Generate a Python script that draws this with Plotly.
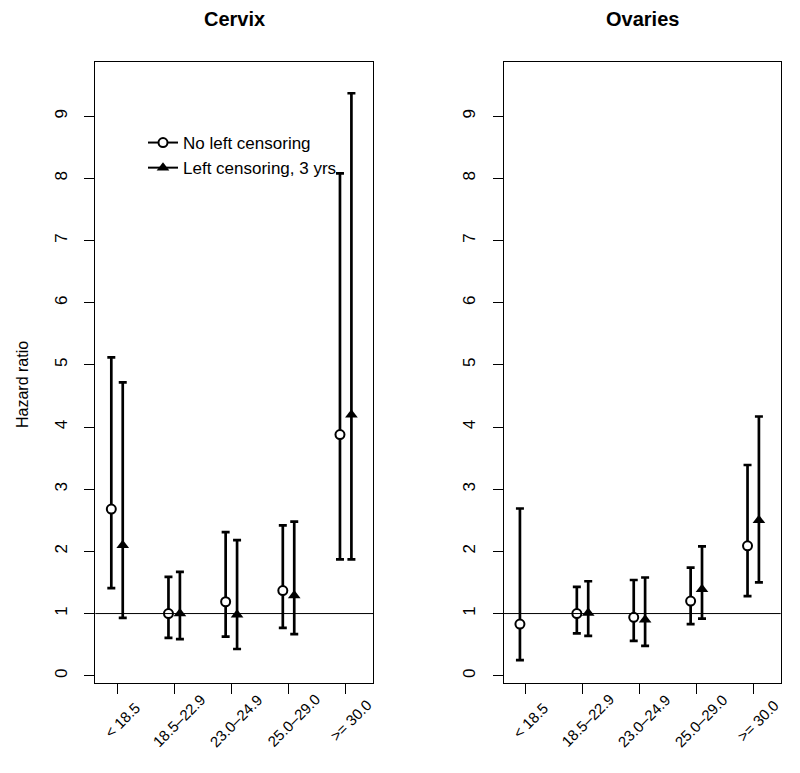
import plotly.graph_objects as go

categories = ["< 18.5", "18.5–22.9", "23.0–24.9", "25.0–29.0", ">= 30.0"]
cat_pos = [1, 2, 3, 4, 5]
y_ticks = [0, 1, 2, 3, 4, 5, 6, 7, 8, 9]

# Cervix
cervix_no_hr = [2.68, 1.00, 1.19, 1.37, 3.88]
cervix_no_lo = [1.41, 0.61, 0.63, 0.77, 1.87]
cervix_no_hi = [5.12, 1.59, 2.31, 2.42, 8.08]
cervix_lc_hr = [2.10, 1.00, 0.98, 1.29, 4.20]
cervix_lc_lo = [0.93, 0.59, 0.43, 0.67, 1.87]
cervix_lc_hi = [4.72, 1.67, 2.18, 2.48, 9.37]

# Ovaries
ovaries_no_hr = [0.83, 1.00, 0.94, 1.20, 2.09]
ovaries_no_lo = [0.25, 0.68, 0.56, 0.83, 1.28]
ovaries_no_hi = [2.69, 1.43, 1.54, 1.74, 3.39]
ovaries_lc_hr = [None, 1.01, 0.90, 1.39, 2.50]
ovaries_lc_lo = [None, 0.64, 0.48, 0.92, 1.50]
ovaries_lc_hi = [None, 1.52, 1.58, 2.08, 4.17]

reference_hr = 1

FONT = "Liberation Sans, Arial, Helvetica, sans-serif"
OFFSET = 0.1
W, H = 800, 773

fig = go.Figure()


def add_series(hr, lo, hi, dx, symbol, fill, xa, ya):
    xs = [c + dx for c in cat_pos]
    plus = [None if h is None else u - h for h, u in zip(hr, hi)]
    minus = [None if h is None else h - l for h, l in zip(hr, lo)]
    fig.add_trace(go.Scatter(
        x=xs, y=hr, mode="markers", xaxis=xa, yaxis=ya, showlegend=False,
        marker=dict(symbol=symbol, size=9 if symbol == "circle" else 11,
                    color=fill, line=dict(color="black", width=2 if symbol == "circle" else 0)),
        error_y=dict(type="data", symmetric=False, array=plus, arrayminus=minus,
                     color="black", thickness=2.7, width=4),
        cliponaxis=False,
    ))


add_series(cervix_no_hr, cervix_no_lo, cervix_no_hi, -OFFSET, "circle", "white", "x", "y")
add_series(cervix_lc_hr, cervix_lc_lo, cervix_lc_hi, OFFSET, "triangle-up", "black", "x", "y")
add_series(ovaries_no_hr, ovaries_no_lo, ovaries_no_hi, -OFFSET, "circle", "white", "x2", "y2")
add_series(ovaries_lc_hr, ovaries_lc_lo, ovaries_lc_hi, OFFSET, "triangle-up", "black", "x2", "y2")

# legend entries
fig.add_trace(go.Scatter(x=[None], y=[None], mode="lines+markers", name="No left censoring",
                         line=dict(color="black", width=2),
                         marker=dict(symbol="circle", size=9, color="white", line=dict(color="black", width=2))))
fig.add_trace(go.Scatter(x=[None], y=[None], mode="lines+markers", name="Left censoring, 3 yrs",
                         line=dict(color="black", width=2),
                         marker=dict(symbol="triangle-up", size=11, color="black")))

xr = [0.62, 5.483]
yr = [-0.122, 9.868]
ydom = [1 - 683.3 / H, 1 - 62.3 / H]

xcommon = dict(range=xr, tickvals=cat_pos, showticklabels=False,
               showline=True, mirror=True, linecolor="black", linewidth=1,
               ticks="outside", ticklen=10, tickwidth=1, tickcolor="black",
               showgrid=False, zeroline=False, fixedrange=True, automargin=False)
ycommon = dict(range=yr, tickvals=y_ticks, tickangle=-90,
               showline=True, mirror=True, linecolor="black", linewidth=1,
               ticks="outside", ticklen=10, tickwidth=1, tickcolor="black",
               showgrid=False, zeroline=False, fixedrange=True, automargin=False,
               ticklabelstandoff=11,
               tickfont=dict(family=FONT, size=17, color="black"))

annotations = [
    dict(text="<b>Cervix</b>", x=(95.3 + 373.3) / 2 / W, y=1 - 19 / H, xref="paper", yref="paper",
         showarrow=False, xanchor="center", yanchor="middle",
         font=dict(family=FONT, size=20, color="black")),
    dict(text="<b>Ovaries</b>", x=(504 + 780.7) / 2 / W, y=1 - 19 / H, xref="paper", yref="paper",
         showarrow=False, xanchor="center", yanchor="middle",
         font=dict(family=FONT, size=20, color="black")),
    dict(text="Hazard ratio", x=22 / W, y=1 - 385 / H, xref="paper", yref="paper",
         showarrow=False, xanchor="center", yanchor="middle", textangle=-90,
         font=dict(family=FONT, size=16, color="black")),
]
# rotated category labels (centred below each tick, like R's text(srt=45))
for xa in ("x", "x2"):
    for c, lab in zip(cat_pos, categories):
        annotations.append(dict(text=lab, x=c + 0.08, y=1 - 720 / H, xref=xa, yref="paper",
                                showarrow=False, xanchor="center", yanchor="middle", textangle=-45,
                                font=dict(family=FONT, size=15, color="black")))

fig.update_layout(
    width=W, height=H, autosize=False,
    margin=dict(l=0, r=0, t=0, b=0, autoexpand=False),
    paper_bgcolor="white", plot_bgcolor="white",
    font=dict(family=FONT, size=16, color="black"),
    xaxis=dict(domain=[95.3 / W, 373.3 / W], anchor="y", **xcommon),
    yaxis=dict(domain=ydom, anchor="x", **ycommon),
    xaxis2=dict(domain=[504 / W, 780.7 / W], anchor="y2", **xcommon),
    yaxis2=dict(domain=ydom, anchor="x2", **ycommon),
    showlegend=True,
    legend=dict(x=143 / W, y=1 - 125 / H, xanchor="left", yanchor="top",
                bgcolor="rgba(0,0,0,0)", borderwidth=0,
                font=dict(family=FONT, size=17, color="black"),
                tracegroupgap=0),
    shapes=[
        dict(type="line", xref="x domain", yref="y", x0=0, x1=1, y0=reference_hr, y1=reference_hr,
             line=dict(color="black", width=1)),
        dict(type="line", xref="x2 domain", yref="y2", x0=0, x1=1, y0=reference_hr, y1=reference_hr,
             line=dict(color="black", width=1)),
    ],
    annotations=annotations,
)

fig.write_html("out.html",
               config={"displayModeBar": False, "staticPlot": True},
               post_script="document.body.style.margin='0';document.body.style.padding='0';")
